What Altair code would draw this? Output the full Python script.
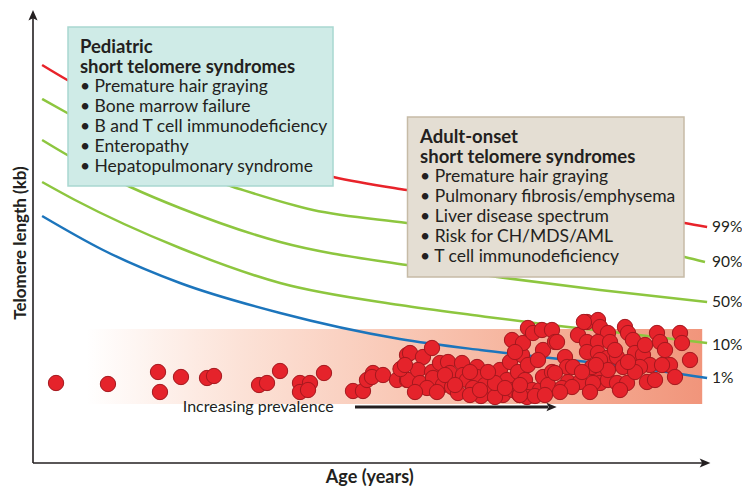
import altair as alt
import pandas as pd

# ---------------- data ----------------
# percentile curves: age (arbitrary 0-97 axis units) and telomere length (0-91 units)
p99_age = [1.3, 4.9, 23.9, 42.9, 53.4, 73.1, 93.1, 96.3]
p99_kb = [79.6, 76.6, 65.6, 57.2, 54.6, 51.0, 48.0, 47.2]
p90_age = [1.3, 4.9, 15.3, 28.6, 40.0, 53.4, 73.0, 93.1, 96.0]
p90_kb = [72.8, 70.0, 61.6, 55.2, 50.6, 48.0, 44.5, 41.2, 40.2]
p50_age = [1.3, 4.9, 13.9, 21.0, 35.3, 53.4, 66.3, 81.0, 96.3]
p50_kb = [64.6, 61.6, 55.2, 51.0, 44.2, 39.6, 37.2, 34.6, 32.2]
p10_age = [1.3, 6.0, 21.0, 35.3, 52.4, 63.9, 73.9, 84.1, 96.3]
p10_kb = [56.2, 52.6, 43.0, 36.0, 31.6, 29.4, 27.6, 26.0, 24.0]
p1_age = [1.3, 10.0, 21.0, 35.3, 52.4, 63.9, 73.9, 84.1, 96.3]
p1_kb = [49.4, 42.6, 36.0, 30.0, 24.8, 22.6, 21.0, 19.4, 17.0]
pct_labels = ["99%", "90%", "50%", "10%", "1%"]
pct_label_kb = [47.2, 40.2, 32.2, 23.6, 17.0]

# patients
pt_age = [3.29, 10.71, 17.86, 18.14, 21.14, 24.86, 25.86, 32.29, 33.43, 35.29,
          38.14, 39.57, 38.14, 39.29, 41.57, 45.71, 47.14, 47.71, 48.57, 48.43,
          50.0, 52.0, 53.43, 53.43,
          53.86, 55.71, 57.0, 53.57, 55.0, 55.29, 57.0, 57.14, 56.29, 58.14,
          59.29, 59.57, 58.57, 59.86, 61.29, 61.43, 62.0, 60.71, 63.43, 63.43,
          64.57, 62.86, 65.29, 66.71, 67.71, 67.14, 68.14, 68.57, 69.29, 69.86,
          68.43, 70.0, 70.71, 71.43, 72.71, 74.14, 72.86, 74.57, 70.29, 71.29,
          70.57, 72.43, 72.86, 74.14, 73.57, 70.71,
          74.86, 76.0, 77.86, 79.14, 80.71, 81.0, 82.14, 79.14, 80.71, 82.43,
          79.14, 80.71, 82.0, 83.43, 84.57, 85.0, 85.71, 86.0, 87.14, 88.14,
          89.14, 89.57, 90.29, 92.43, 92.71, 93.86, 91.0, 91.71, 89.86, 87.71,
          88.86, 76.29, 77.14, 74.57, 76.43, 78.14, 75.57, 77.0, 80.57, 81.0,
          80.0, 82.14, 83.43, 84.86, 81.0, 82.14, 84.29, 79.86, 78.43, 86.71,
          78.7, 64.0, 66.0, 69.5, 52.5,
          53.14, 54.57, 57.71, 58.86, 62.43, 62.43, 63.86, 66.0, 67.43, 69.57,
          71.71, 73.14, 69.57, 75.29, 79.57, 83.86, 86.0, 87.43, 65.0, 60.29,
          68.86, 72.14, 80.43, 83.14, 85.0]
pt_kb = [16.0, 15.8, 18.2, 14.2, 17.2, 17.0, 17.4, 15.6, 16.0, 18.4,
         16.0, 16.0, 14.2, 14.6, 18.0, 14.4, 14.4, 16.6, 18.0, 17.2,
         17.6, 16.6, 16.6, 21.6,
         22.0, 21.2, 23.0, 16.6, 18.6, 16.0, 18.2, 17.0, 15.0, 20.0,
         20.2, 18.0, 15.6, 15.2, 20.0, 17.6, 16.6, 14.0, 19.2, 17.2,
         15.6, 15.0, 14.0, 18.6, 16.6, 13.6, 20.2, 14.6, 18.2, 21.6,
         24.6, 24.0, 27.0, 26.0, 26.6, 26.6, 22.6, 24.2, 16.6, 14.6,
         13.2, 14.6, 17.2, 18.2, 15.6, 19.6,
         24.2, 21.2, 25.6, 28.2, 28.6, 27.2, 26.0, 24.2, 24.2, 24.2,
         22.2, 22.0, 21.0, 21.2, 27.2, 26.0, 24.6, 22.0, 21.6, 19.6,
         26.0, 24.2, 22.6, 26.0, 24.0, 20.6, 19.6, 17.2, 19.6, 16.2,
         16.6, 19.2, 19.2, 18.0, 16.2, 16.2, 15.0, 15.2, 18.0, 16.0,
         16.0, 16.6, 16.0, 16.0, 20.6, 18.6, 19.2, 19.2, 18.2, 19.2,
         28.2, 13.4, 13.2, 13.6, 18.8,
         19.6, 14.2, 14.2, 17.6, 13.6, 18.2, 14.6, 16.0, 15.0, 13.6,
         13.4, 13.6, 15.6, 14.2, 14.2, 14.6, 18.2, 23.6, 18.2, 15.6,
         22.2, 20.6, 19.6, 22.6, 20.2]

ped_lines = ["Pediatric", "short telomere syndromes", "• Premature hair graying",
             "• Bone marrow failure", "• B and T cell immunodeficiency",
             "• Enteropathy", "• Hepatopulmonary syndrome"]
adult_lines = ["Adult-onset", "short telomere syndromes", "• Premature hair graying",
               "• Pulmonary fibrosis/emphysema", "• Liver disease spectrum",
               "• Risk for CH/MDS/AML", "• T cell immunodeficiency"]

# ---------------- tables ----------------
curves = []
for name, ages, kbs in [("99%", p99_age, p99_kb), ("90%", p90_age, p90_kb),
                        ("50%", p50_age, p50_kb), ("10%", p10_age, p10_kb),
                        ("1%", p1_age, p1_kb)]:
    for a, k in zip(ages, kbs):
        curves.append({"pct": name, "age": a, "kb": k})
curves = pd.DataFrame(curves)
pts = pd.DataFrame({"age": pt_age, "kb": pt_kb})
labels = pd.DataFrame({"pct": pct_labels, "kb": pct_label_kb, "age": [97.0] * 5})

def box_text(lines, x, top):
    return pd.DataFrame({"t": lines, "age": [x] * len(lines),
                         "kb": [top - 4 * i for i in range(len(lines))],
                         "head": [i < 2 for i in range(len(lines))]})

ped_txt = box_text(ped_lines, 6.7, 83.2)
adu_txt = box_text(adult_lines, 55.3, 65.2)

X = alt.Scale(domain=[0, 97], range=[25, 704])
Y = alt.Scale(domain=[0, 91], range=[455, 0])
FONT = "Lato"
INK = "#231F20"

def xe(f="age"):
    return alt.X(f"{f}:Q", scale=X, axis=None)

def ye(f="kb"):
    return alt.Y(f"{f}:Q", scale=Y, axis=None)

# gradient band
band = alt.Chart(pd.DataFrame({"a": [7.6], "a2": [95.6], "k": [26.8], "k2": [11.8]})).mark_rect(
    color=alt.Gradient(gradient="linear", x1=0, x2=1, y1=0, y2=0,
                       stops=[alt.GradientStop(color="#FFFFFF", offset=0),
                              alt.GradientStop(color="#FCE2D7", offset=0.25),
                              alt.GradientStop(color="#F9C9B7", offset=0.5),
                              alt.GradientStop(color="#F5AF97", offset=0.75),
                              alt.GradientStop(color="#F1957B", offset=1)])
).encode(x=alt.X("a:Q", scale=X, axis=None), x2="a2:Q",
         y=alt.Y("k:Q", scale=Y, axis=None), y2="k2:Q")

lines = alt.Chart(curves).mark_line(interpolate="monotone", strokeWidth=2.5).encode(
    x=xe(), y=ye(), detail="pct:N",
    color=alt.Color("pct:N", legend=None,
                    scale=alt.Scale(domain=["99%", "90%", "50%", "10%", "1%"],
                                    range=["#E8232A", "#8DC63F", "#8DC63F", "#8DC63F", "#1C75BC"])))

boxes_df = pd.DataFrame({"a": [5.0, 53.5], "a2": [42.86, 93.0], "k": [87.2, 69.2], "k2": [55.4, 37.2],
                         "b": ["ped", "adult"]})
boxes = alt.Chart(boxes_df).mark_rect(strokeWidth=1.5).encode(
    x=alt.X("a:Q", scale=X, axis=None), x2="a2:Q",
    y=alt.Y("k:Q", scale=Y, axis=None), y2="k2:Q",
    fill=alt.Fill("b:N", legend=None, scale=alt.Scale(domain=["ped", "adult"], range=["#CFEBE7", "#E4DED3"])),
    stroke=alt.Stroke("b:N", legend=None, scale=alt.Scale(domain=["ped", "adult"], range=["#A9D8D1", "#C6BBA6"])))

def txt_layers(df):
    h = alt.Chart(df).transform_filter("datum.head").mark_text(
        align="left", baseline="middle", font=FONT, fontSize=18.5, fontWeight="bold", color=INK
    ).encode(x=xe(), y=ye(), text="t:N")
    b = alt.Chart(df).transform_filter("!datum.head").mark_text(
        align="left", baseline="middle", font=FONT, fontSize=17.5, color=INK
    ).encode(x=xe(), y=ye(), text="t:N")
    return h + b

points = alt.Chart(pts).mark_circle(size=235, color="#E5232B", opacity=1,
                                   stroke="#A3181E", strokeWidth=1).encode(x=xe(), y=ye())

pct_text = alt.Chart(labels).mark_text(align="left", baseline="middle", font=FONT,
                                       fontSize=15.5, color=INK).encode(x=xe(), y=ye(), text="pct:N")

# axes with arrowheads
axes_df = pd.DataFrame({"a": [0, 0], "a2": [0, 95.9], "k": [0, 0], "k2": [89.0, 0]})
axes = alt.Chart(axes_df).mark_rule(color=INK, strokeWidth=1.6).encode(
    x=alt.X("a:Q", scale=X, axis=None), x2="a2:Q",
    y=alt.Y("k:Q", scale=Y, axis=None), y2="k2:Q")
up_head = alt.Chart(pd.DataFrame({"age": [0], "kb": [89.4]})).mark_point(
    shape="M0,-1L0.75,0.75L0,0.35L-0.75,0.75Z", size=150, filled=True, color=INK, opacity=1
).encode(x=xe(), y=ye())
right_head = alt.Chart(pd.DataFrame({"age": [95.9], "kb": [0]})).mark_point(
    shape="M1,0L-0.75,0.75L-0.35,0L-0.75,-0.75Z", size=150, filled=True, color=INK, opacity=1
).encode(x=xe(), y=ye())

# prevalence arrow
prev_txt = alt.Chart(pd.DataFrame({"age": [21.4], "kb": [11.2], "t": ["Increasing prevalence"]})).mark_text(
    align="left", baseline="middle", font=FONT, fontSize=16, color=INK).encode(x=xe(), y=ye(), text="t:N")
prev_line = alt.Chart(pd.DataFrame({"a": [46.0], "a2": [73.6], "k": [11.2]})).mark_rule(
    color=INK, strokeWidth=3).encode(x=alt.X("a:Q", scale=X, axis=None), x2="a2:Q",
                                      y=alt.Y("k:Q", scale=Y, axis=None))
prev_head = alt.Chart(pd.DataFrame({"age": [74.0], "kb": [11.2]})).mark_point(
    shape="M1,0L-0.8,0.75L-0.4,0L-0.8,-0.75Z", size=130, filled=True, color=INK, opacity=1
).encode(x=xe(), y=ye())

# titles
ytitle = alt.Chart(pd.DataFrame({"age": [-1.75], "kb": [44.0], "t": ["Telomere length (kb)"]})).mark_text(
    angle=270, align="center", baseline="middle", font=FONT, fontSize=17, fontWeight="bold", color=INK
).encode(x=xe(), y=ye(), text="t:N")
xtitle = alt.Chart(pd.DataFrame({"age": [48.1], "kb": [-2.9], "t": ["Age (years)"]})).mark_text(
    align="center", baseline="middle", font=FONT, fontSize=18, fontWeight="bold", color=INK
).encode(x=xe(), y=ye(), text="t:N")

chart = alt.layer(
    band, lines, boxes, txt_layers(ped_txt), txt_layers(adu_txt), points, pct_text,
    axes, up_head, right_head, prev_txt, prev_line, prev_head, ytitle, xtitle
).properties(width=734, height=481, autosize=alt.AutoSizeParams(type="none"), padding=0
).configure_view(stroke=None)

chart.save("out.html", embed_options={"renderer": "svg", "actions": False})
